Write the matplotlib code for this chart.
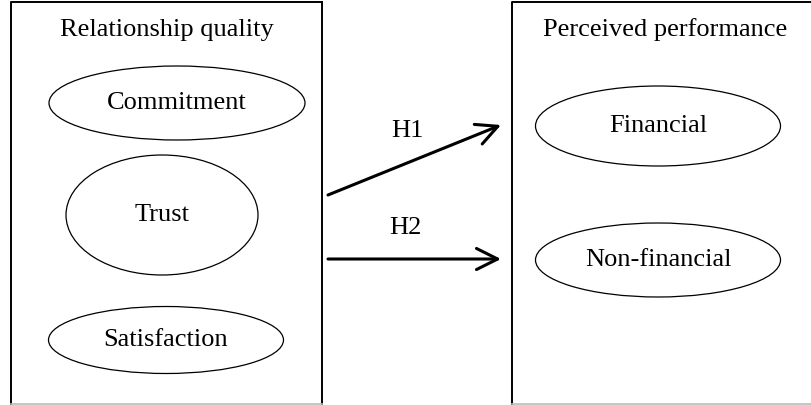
import matplotlib.pyplot as plt
from matplotlib.patches import Ellipse

plt.rcParams['font.family'] = ['Liberation Serif', 'DejaVu Serif']

# boxes: (left, top, right, bottom) in pixels
box_titles = ['Relationship quality', 'Perceived performance']
box_edges = [(11, 2, 322, 404), (512, 2, 815, 404)]
title_pos = [(167, 30), (665, 30)]

# constructs inside boxes: label, centre x, centre y, width, height
node_labels = ['Commitment', 'Trust', 'Satisfaction', 'Financial', 'Non-financial']
node_x = [177, 162, 166, 658, 658]
node_y = [103, 215, 340, 126, 260]
node_w = [256, 192, 235, 245, 245]
node_h = [74, 120, 67, 80, 74]

# hypotheses arrows
hyp_labels = ['H1', 'H2']
hyp_start = [(328, 195), (328, 259)]
hyp_end = [(501, 125), (501, 259)]
hyp_label_pos = [(407, 131), (405, 228)]

fig = plt.figure(figsize=(8.11, 4.05), dpi=100)
ax = fig.add_axes([0, 0, 1, 1])
ax.set_xlim(0, 811)
ax.set_ylim(405, 0)
ax.axis('off')

for (l, t, r, b), title, (tx, ty) in zip(box_edges, box_titles, title_pos):
    ax.plot([l, l, r], [b, t, t], color='black', lw=1.4)
    ax.plot([r, r], [t, b], color='black', lw=1.4)
    ax.plot([l, r], [b, b], color='#bbbbbb', lw=1.2)
    ax.text(tx, ty, title, ha='center', va='center', fontsize=19)

for lab, x, y, w, h in zip(node_labels, node_x, node_y, node_w, node_h):
    ax.add_patch(Ellipse((x, y), w, h, fill=False, edgecolor='black', lw=0.9))
    ax.text(x, y, lab, ha='center', va='center', fontsize=19)

for lab, s, e, (lx, ly) in zip(hyp_labels, hyp_start, hyp_end, hyp_label_pos):
    ax.annotate('', xy=e, xytext=s,
                arrowprops=dict(arrowstyle='->', lw=2.2, color='black',
                                mutation_scale=38, shrinkA=0, shrinkB=0))
    ax.text(lx, ly, lab, ha='center', va='center', fontsize=19)

plt.savefig('out.png', dpi=100)
